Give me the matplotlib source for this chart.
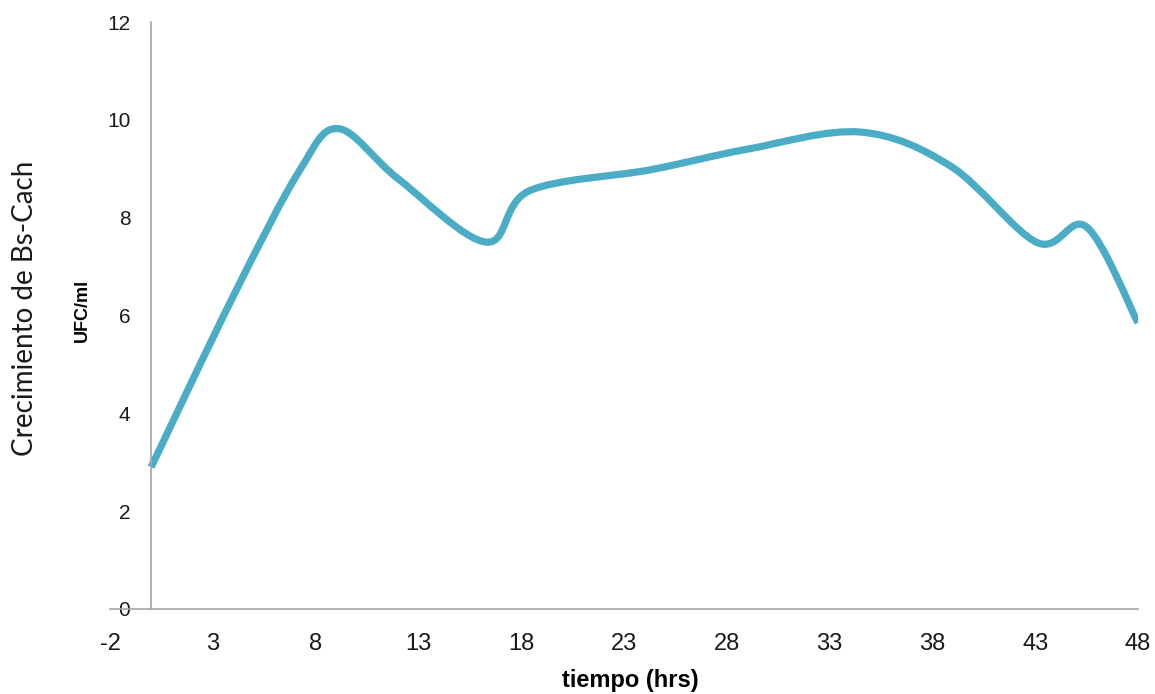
import numpy as np
import matplotlib
matplotlib.use("Agg")
import matplotlib.pyplot as plt
from matplotlib.path import Path
from matplotlib.patches import PathPatch
from matplotlib import font_manager

# ---- data ----
tiempo_hrs = [0, 4, 7.2, 9.1, 12, 16.3, 18.4, 24.3, 29, 34.5, 38.9, 43.1, 45.5, 48]
ufc_ml = [2.9, 6.4, 8.95, 9.82, 8.8, 7.5, 8.55, 8.98, 9.4, 9.75, 9.05, 7.49, 7.81, 5.85]
x_ticks = [-2, 3, 8, 13, 18, 23, 28, 33, 38, 43, 48]
y_ticks = [0, 2, 4, 6, 8, 10, 12]

names = {f.name for f in font_manager.fontManager.ttflist}
side_font = "Lato" if "Lato" in names else "DejaVu Sans"

fig = plt.figure(figsize=(11.55, 6.94), dpi=100)
ax = fig.add_axes([110/1155, 1-609/694, (1138-110)/1155, (609-22)/694])

for s in ["top", "right"]:
    ax.spines[s].set_visible(False)
ax.spines["left"].set_position(("data", 0))
for s in ["left", "bottom"]:
    ax.spines[s].set_color("#A6A6A6")
    ax.spines[s].set_linewidth(1.2)

# Excel-like smoothed line: cubic Bezier with Catmull-Rom control points
x = np.asarray(tiempo_hrs, float)
y = np.asarray(ufc_ml, float)
P = np.column_stack([x, y])
Pe = np.vstack([P[0], P, P[-1]])
verts = [tuple(P[0])]
codes = [Path.MOVETO]
for i in range(len(P) - 1):
    p0, p1, p2, p3 = Pe[i], Pe[i+1], Pe[i+2], Pe[i+3]
    c1 = p1 + (p2 - p0) / 6.0
    c2 = p2 - (p3 - p1) / 6.0
    verts += [tuple(c1), tuple(c2), tuple(p2)]
    codes += [Path.CURVE4] * 3
patch = PathPatch(Path(verts, codes), facecolor="none", edgecolor="#4BACC6",
                  lw=5.2, capstyle="butt", joinstyle="round")
ax.add_patch(patch)

ax.set_xlim(-2, 48)
ax.set_ylim(0, 12)
ax.set_xticks(x_ticks, [str(v) for v in x_ticks])
ax.set_yticks(y_ticks, [str(v) for v in y_ticks])
ax.tick_params(axis="both", length=0, labelcolor="#1A1A1A")
ax.tick_params(axis="x", pad=17, labelsize=17, labelfontfamily="Liberation Sans")
ax.tick_params(axis="y", pad=15, labelsize=15, labelfontfamily="Liberation Sans")

fig.text(630/1155, 1-680/694, "tiempo (hrs)", ha="center", va="center",
         fontfamily="Liberation Sans", fontweight="bold", fontsize=17)
fig.text(82/1155, 1-310/694, "UFC/ml", ha="center", va="center", rotation=90,
         fontfamily="Liberation Sans", fontweight="bold", fontsize=13)
fig.text(25/1155, 1-308/694, "Crecimiento de Bs-Cach", ha="center", va="center",
         rotation=90, fontfamily=side_font, fontsize=20, color="#1A1A1A")

fig.savefig("out.png", dpi=100)
